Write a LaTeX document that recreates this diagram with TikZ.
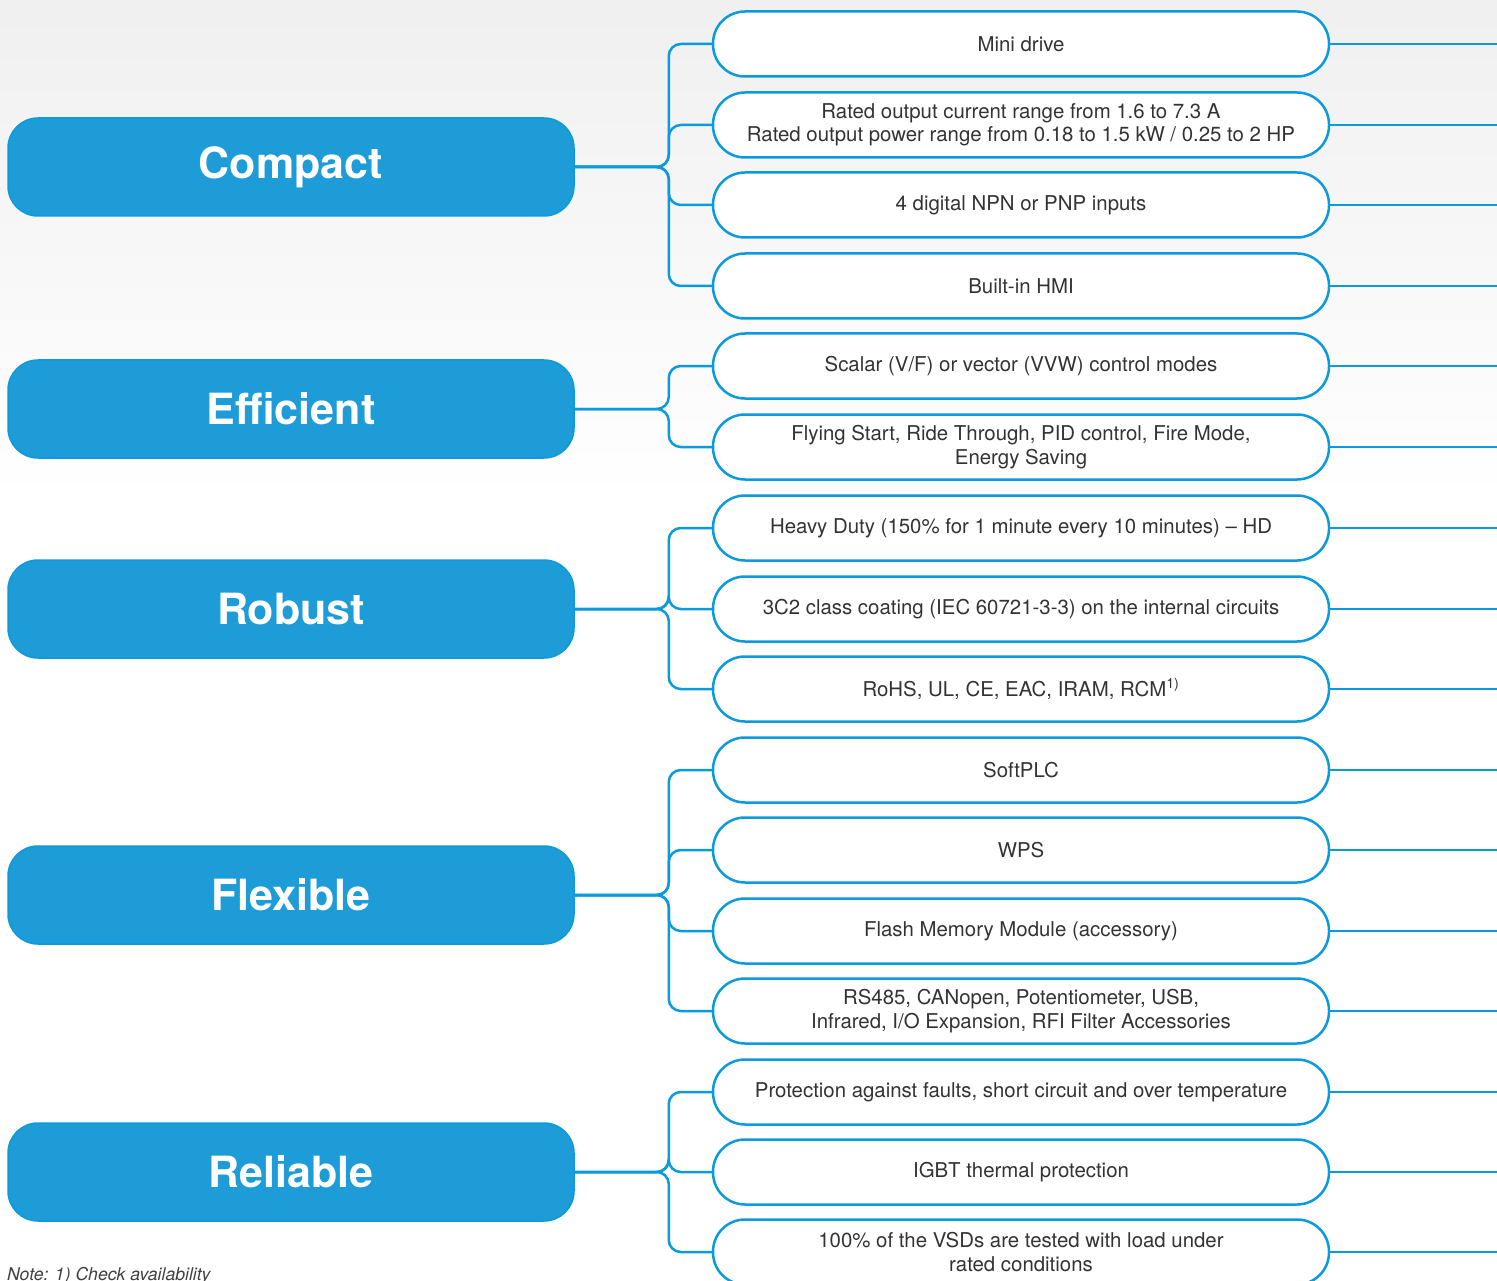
\documentclass[tikz,border=0pt]{standalone}
\usepackage{fontspec}
\setmainfont{TeX Gyre Heros}
\definecolor{wblue}{HTML}{1D9CD8}
\definecolor{lblue}{HTML}{0B9BDD}
\definecolor{txt}{HTML}{333333}
\begin{document}
\begin{tikzpicture}[x=1pt,y=-1pt,
 mainbox/.style={rectangle, rounded corners=30pt, fill=wblue, draw=lblue, line width=1.5pt, minimum width=566pt, minimum height=98pt, text=white, font=\fontsize{43}{50}\selectfont\bfseries},
 featbox/.style={rectangle, rounded corners=32pt, draw=lblue, fill=white, line width=2.5pt, minimum width=616pt, minimum height=65pt, text=txt, font=\fontsize{20.4}{23.5}\selectfont, align=center, inner sep=0pt},
 conn/.style={draw=lblue, line width=2.5pt, rounded corners=12pt},
 rline/.style={draw=lblue, line width=2.5pt}
]
\useasboundingbox (0,0) rectangle (1497,1281);
\fill[white] (0,0) rectangle (1497,1281);
\shade[top color=black!6, bottom color=white] (0,0) rectangle (1497,500);
\coordinate (R) at (1497,0);

% main boxes
\node[mainbox] (C) at (291,167) {Compact};
\node[mainbox] (E) at (291,409) {Efficient};
\node[mainbox] (Rb) at (291,609) {Robust};
\node[mainbox] (F) at (291,895) {Flexible};
\node[mainbox] (Rl) at (291,1172) {Reliable};

% feature boxes
\node[featbox] (f1) at (1021,44) {Mini drive};
\node[featbox] (f2) at (1021,125) {Rated output current range from 1.6 to 7.3 A\\Rated output power range from 0.18 to 1.5 kW / 0.25 to 2 HP};
\node[featbox] (f3) at (1021,205) {4 digital NPN or PNP inputs};
\node[featbox] (f4) at (1021,286) {Built-in HMI};
\node[featbox] (f5) at (1021,366) {Scalar (V/F) or vector (VVW) control modes};
\node[featbox] (f6) at (1021,447) {Flying Start, Ride Through, PID control, Fire Mode,\\Energy Saving};
\node[featbox] (f7) at (1021,528) {Heavy Duty (150\% for 1 minute every 10 minutes) -- HD};
\node[featbox] (f8) at (1021,609) {3C2 class coating (IEC 60721-3-3) on the internal circuits};
\node[featbox] (f9) at (1021,689) {RoHS, UL, CE, EAC, IRAM, RCM\textsuperscript{1)}};
\node[featbox] (f10) at (1021,770) {SoftPLC};
\node[featbox] (f11) at (1021,850) {WPS};
\node[featbox] (f12) at (1021,931) {Flash Memory Module (accessory)};
\node[featbox] (f13) at (1021,1011) {RS485, CANopen, Potentiometer, USB,\\Infrared, I/O Expansion, RFI Filter Accessories};
\node[featbox] (f14) at (1021,1092) {Protection against faults, short circuit and over temperature};
\node[featbox] (f15) at (1021,1172) {IGBT thermal protection};
\node[featbox] (f16) at (1021,1252) {100\% of the VSDs are tested with load under\\rated conditions};

% connectors main -> features
\foreach \m/\f in {C/f1,C/f2,C/f3,C/f4,E/f5,E/f6,Rb/f7,Rb/f8,Rb/f9,F/f10,F/f11,F/f12,F/f13,Rl/f14,Rl/f15,Rl/f16}{
  \draw[conn] (\m.east) -| ([xshift=-43pt]\f.west) -- (\f.west);
}
% lines to right edge
\foreach \f in {f1,f2,f3,f4,f5,f6,f7,f8,f9,f10,f11,f12,f13,f14,f15,f16}{
  \draw[rline] (\f.east) -- (\f.east -| R);
}

\node[anchor=base west, inner sep=0pt, text=black!75, font=\fontsize{17.6}{20}\selectfont\itshape] (note) at (7,1280) {Note: 1) Check availability};
\end{tikzpicture}
\end{document}
